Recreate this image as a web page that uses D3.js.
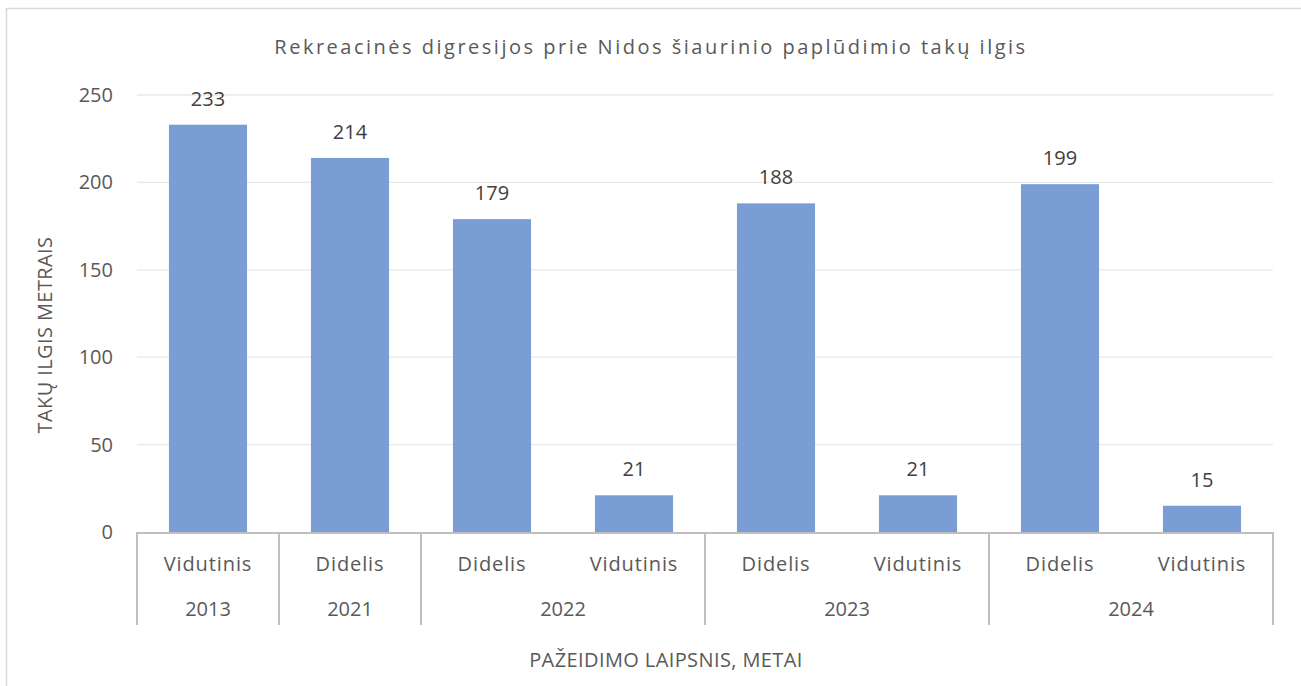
<!DOCTYPE html>
<html>
<head>
<meta charset="utf-8">
<script src="https://cdn.jsdelivr.net/npm/d3@7"></script>
<style>
  html, body { margin: 0; padding: 0; background: #fff; }
  svg { display: block; font-family: "Open Sans", "Noto Sans", sans-serif; }
</style>
</head>
<body>
<svg id="chart" width="1301" height="686"></svg>
<script>
// Data: trail length by damage degree and survey year
const years = ["2013", "2021", "2022", "2022", "2023", "2023", "2024", "2024"];
const degrees = ["Vidutinis", "Didelis", "Didelis", "Vidutinis", "Didelis", "Vidutinis", "Didelis", "Vidutinis"];
const lengths = [233, 214, 179, 21, 188, 21, 199, 15];
const yTicks = [0, 50, 100, 150, 200, 250];
const yearGroups = ["2013", "2021", "2022", "2023", "2024"];

const titleText = "Rekreacinės digresijos prie Nidos šiaurinio paplūdimio takų ilgis";
const yTitle = "TAKŲ ILGIS METRAIS";
const xTitle = "PAŽEIDIMO LAIPSNIS, METAI";

const svg = d3.select("#chart");
const W = 1301, H = 686;
const plot = { left: 137, right: 1273, top: 95, bottom: 532 };
const textColor = "#595959";

// outer chart frame
svg.append("rect")
  .attr("x", 6.5).attr("y", 8.5)
  .attr("width", W + 10).attr("height", H + 10)
  .attr("fill", "none").attr("stroke", "#d9d9d9").attr("stroke-width", 1.5);

const idx = d3.range(lengths.length);
const x = d3.scaleBand().domain(idx).range([plot.left, plot.right]).paddingInner(0.45).paddingOuter(0.225);
const y = d3.scaleLinear().domain([0, 250]).range([plot.bottom, plot.top]);

// horizontal gridlines
svg.append("g").selectAll("line").data(yTicks.filter(t => t > 0)).join("line")
  .attr("x1", plot.left).attr("x2", plot.right)
  .attr("y1", d => y(d)).attr("y2", d => y(d))
  .attr("stroke", "#e8e8e8").attr("stroke-width", 1.3);

// y axis tick labels
const yAxis = d3.axisLeft(y).tickValues(yTicks).tickSize(0).tickPadding(0);
const ya = svg.append("g").attr("transform", `translate(${plot.left - 24},0)`).call(yAxis);
ya.select(".domain").remove();
ya.selectAll("text").attr("font-size", 20).attr("fill", textColor)
  .attr("font-family", "'Open Sans', sans-serif");

// bars
svg.append("g").selectAll("rect").data(idx).join("rect")
  .attr("x", i => x(i))
  .attr("width", x.bandwidth())
  .attr("y", i => y(lengths[i]))
  .attr("height", i => y(0) - y(lengths[i]))
  .attr("fill", "#7b9dd5");

// value labels
svg.append("g").selectAll("text").data(idx).join("text")
  .attr("x", i => x(i) + x.bandwidth() / 2)
  .attr("y", i => y(lengths[i]) - 19)
  .attr("text-anchor", "middle")
  .attr("font-size", 20).attr("fill", "#404040")
  .text(i => lengths[i]);

// category axis baseline
svg.append("line")
  .attr("x1", plot.left).attr("x2", plot.right)
  .attr("y1", plot.bottom + 1).attr("y2", plot.bottom + 1)
  .attr("stroke", "#bfbfbf").attr("stroke-width", 2);

// group extents for the multi-level category axis
const groupRanges = yearGroups.map(g => {
  const members = idx.filter(i => years[i] === g);
  return {
    year: g,
    x0: plot.left + (plot.right - plot.left) * members[0] / lengths.length,
    x1: plot.left + (plot.right - plot.left) * (members[members.length - 1] + 1) / lengths.length
  };
});
const boundaries = [plot.left].concat(groupRanges.map(r => r.x1));
svg.append("g").selectAll("line").data(boundaries).join("line")
  .attr("x1", d => d).attr("x2", d => d)
  .attr("y1", plot.bottom).attr("y2", 625)
  .attr("stroke", "#bfbfbf").attr("stroke-width", 2);

// degree labels
svg.append("g").selectAll("text").data(idx).join("text")
  .attr("x", i => x(i) + x.bandwidth() / 2)
  .attr("y", 571)
  .attr("text-anchor", "middle")
  .attr("font-size", 20).attr("letter-spacing", 0.9).attr("fill", textColor)
  .text(i => degrees[i]);

// year labels
svg.append("g").selectAll("text").data(groupRanges).join("text")
  .attr("x", d => (d.x0 + d.x1) / 2)
  .attr("y", 616)
  .attr("text-anchor", "middle")
  .attr("font-size", 20).attr("fill", textColor)
  .text(d => d.year);

// chart title
svg.append("text")
  .attr("x", 651).attr("y", 54)
  .attr("text-anchor", "middle")
  .attr("font-size", 20).attr("fill", textColor)
  .attr("letter-spacing", 2.5)
  .text(titleText);

// axis titles
svg.append("text")
  .attr("transform", "translate(52,335) rotate(-90)")
  .attr("text-anchor", "middle")
  .attr("font-size", 20).attr("letter-spacing", 0.4).attr("fill", textColor)
  .text(yTitle);

svg.append("text")
  .attr("x", 666).attr("y", 667)
  .attr("text-anchor", "middle")
  .attr("font-size", 20).attr("letter-spacing", 0.4).attr("fill", textColor)
  .text(xTitle);
</script>
</body>
</html>
